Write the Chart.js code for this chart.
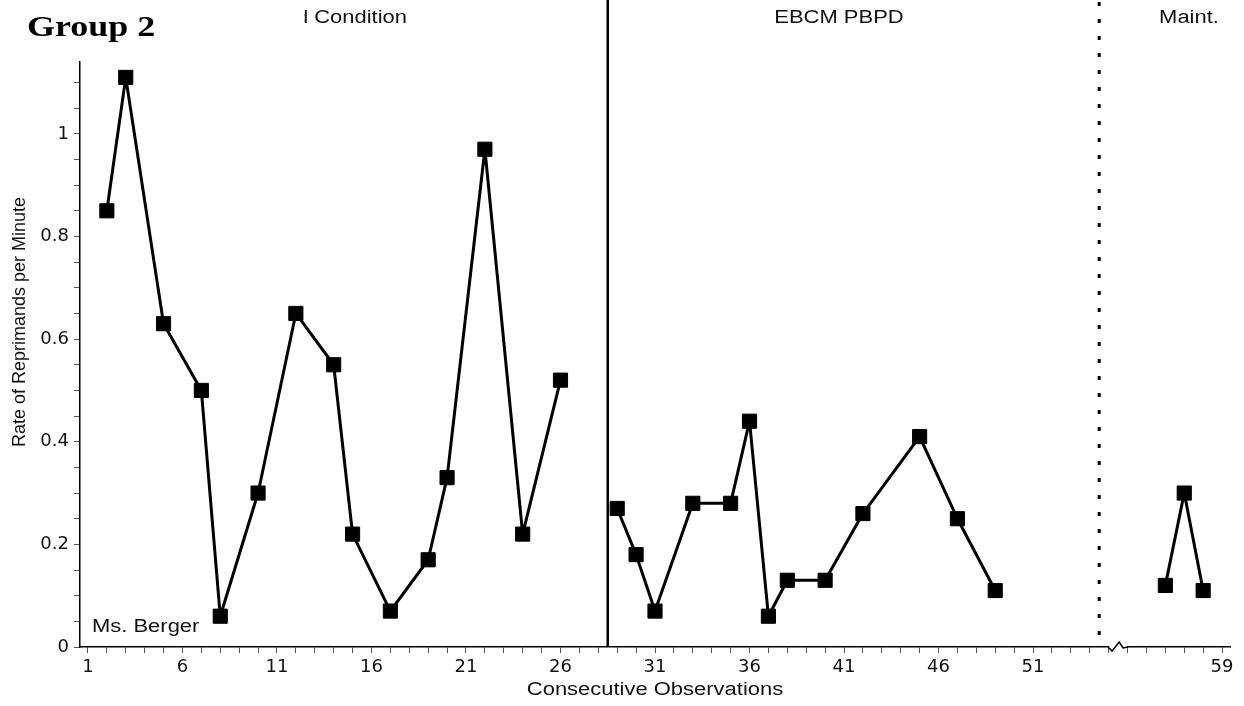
<!DOCTYPE html>
<html><head><meta charset="utf-8">
<script src="https://cdn.jsdelivr.net/npm/chart.js@4"></script>
<style>html,body{margin:0;padding:0;background:#fff;}#wrap{width:1244px;height:706px;position:relative;}</style>
</head><body><div id="wrap"><canvas id="c" width="1244" height="706"></canvas></div>
<script>
// ---- data ----
const baselineObs  = [2, 3, 5, 7, 8, 10, 12, 14, 15, 17, 19, 20, 22, 24, 26];
const baselineRate = [0.85, 1.11, 0.63, 0.50, 0.06, 0.30, 0.65, 0.55, 0.22, 0.07, 0.17, 0.33, 0.97, 0.22, 0.52];
const ebcmObs  = [29, 30, 31, 33, 35, 36, 37, 38, 40, 42, 45, 47, 49];
const ebcmRate = [0.27, 0.18, 0.07, 0.28, 0.28, 0.44, 0.06, 0.13, 0.13, 0.26, 0.41, 0.25, 0.11];
const maintObs  = [56, 57, 58];
const maintRate = [0.12, 0.30, 0.11];
const phaseLabels = ['d Condition', 'EBCM PBPD', 'Maint.'];
const xTickLabelsPre  = [1, 6, 11, 16, 21, 26, 31, 36, 41, 46, 51];
const xTickLabelsPost = [59];
const yTickLabels = [0, 0.2, 0.4, 0.6, 0.8, 1];
const xTitle = 'Consecutive Observations';
const yTitle = 'Rate of Reprimands per Minute';
const teacherLabel = 'Ms. Berger';
const groupLabel = 'Group 2';

// axis break: observations after the break are drawn 2 units further right
const BREAK_SHIFT = 2;
const BREAK_POS = 55.5;      // axis position of the break mark
const phaseLinePos = [28.5, 54.5];

const FONT = '"Liberation Sans", Arial, Helvetica, sans-serif';
const TICKFONT = '"DejaVu Sans", sans-serif';
const FS = 18;
const SX = 1.22;   // the reference text is horizontally stretched

const pts = (obs, rate, post) => obs.map((o, i) => ({x: post ? o + BREAK_SHIFT : o, y: rate[i]}));
const xTickPositions = [];
for (let v = 1; v <= 55; v++) xTickPositions.push(v);
for (let r = 54; r <= 59; r++) xTickPositions.push(r + BREAK_SHIFT);
const yTickPositions = [];
for (let i = 0; i <= 22; i++) yTickPositions.push(Math.round(i * 5) / 100);

const lineDs = (data) => ({
  data, borderColor: '#000', borderWidth: 3, backgroundColor: '#000',
  borderJoinStyle: 'round', borderCapStyle: 'round',
  pointStyle: 'rect', pointRadius: 10, pointBorderWidth: 1, pointBorderColor: '#000',
  pointBackgroundColor: '#000', tension: 0, showLine: true, clip: false
});

function sText(ctx, text, x, y, align, sx, sy) {
  ctx.save();
  ctx.translate(x, y);
  ctx.scale(sx, sy || 1);
  ctx.textAlign = align;
  ctx.fillText(text, 0, 0);
  ctx.restore();
}

const overlay = {
  id: 'overlay',
  afterDatasetsDraw(chart) {
    const {ctx} = chart;
    const xs = chart.scales.x, ys = chart.scales.y;
    const y0 = ys.getPixelForValue(0);
    const ca = chart.chartArea;
    ctx.save();
    // phase change lines
    ctx.strokeStyle = '#000';
    ctx.lineWidth = 2.5;
    let px = xs.getPixelForValue(phaseLinePos[0]);
    ctx.beginPath(); ctx.moveTo(px, 0); ctx.lineTo(px, y0); ctx.stroke();
    px = xs.getPixelForValue(phaseLinePos[1]);
    ctx.lineWidth = 3;
    ctx.setLineDash([4, 13]);
    ctx.beginPath(); ctx.moveTo(px, 2); ctx.lineTo(px, y0 - 4); ctx.stroke();
    ctx.setLineDash([]);
    // axis break
    const bx = xs.getPixelForValue(BREAK_POS);
    ctx.fillStyle = '#fff';
    ctx.fillRect(bx - 9, y0 - 2, 18, 4);
    ctx.strokeStyle = '#000'; ctx.lineWidth = 1.5;
    ctx.beginPath();
    ctx.moveTo(bx - 10, y0);
    ctx.lineTo(bx - 6, y0 + 4);
    ctx.lineTo(bx + 1, y0 - 5);
    ctx.lineTo(bx + 5, y0 + 1);
    ctx.lineTo(bx + 10, y0);
    ctx.stroke();

    // texts
    ctx.fillStyle = '#000';
    ctx.textBaseline = 'middle';
    ctx.font = 'bold 30px "Liberation Serif", "Times New Roman", serif';
    sText(ctx, groupLabel, 27, 28, 'left', 1.2);

    ctx.fillStyle = '#111';
    ctx.font = FS + 'px ' + FONT;
    // first phase label, its left part hidden as in the reference
    const right = 407;
    const w = ctx.measureText(phaseLabels[0]).width * SX;
    const dw = ctx.measureText(phaseLabels[0][0]).width * SX;
    ctx.save();
    ctx.beginPath(); ctx.rect(right - w + dw * 0.7, 0, w, 40); ctx.clip();
    sText(ctx, phaseLabels[0], right, 18, 'right', SX);
    ctx.restore();
    sText(ctx, phaseLabels[1], 839, 18, 'center', SX);
    sText(ctx, phaseLabels[2], 1189, 18, 'center', SX);
    sText(ctx, teacherLabel, 92, 627, 'left', SX);
    // axis titles
    sText(ctx, xTitle, (ca.left + ca.right) / 2, 690, 'center', SX);
    ctx.save();
    ctx.translate(20, 322);
    ctx.rotate(-Math.PI / 2);
    ctx.textAlign = 'center';
    ctx.fillText(yTitle, 0, 0);
    ctx.restore();
    ctx.restore();
  }
};

new Chart(document.getElementById('c'), {
  type: 'line',
  data: {datasets: [
    lineDs(pts(baselineObs, baselineRate, false)),
    lineDs(pts(ebcmObs, ebcmRate, false)),
    lineDs(pts(maintObs, maintRate, true))
  ]},
  options: {
    responsive: false, animation: false, devicePixelRatio: 1,
    layout: {padding: {top: 62, right: 14, left: 0, bottom: 0}},
    plugins: {legend: {display: false}, tooltip: {enabled: false}},
    scales: {
      x: {
        type: 'linear', min: 0.58, max: 61.42,
        afterBuildTicks: s => { s.ticks = xTickPositions.map(v => ({value: v})); },
        afterFit: s => { s.height = 59; },
        ticks: {
          autoSkip: false, maxRotation: 0, minRotation: 0, padding: 4, color: '#111',
          font: {family: TICKFONT, size: FS},
          callback: (v) => {
            if (v <= BREAK_POS) return xTickLabelsPre.includes(v) ? String(v) : '';
            const r = v - BREAK_SHIFT;
            return xTickLabelsPost.includes(r) ? String(r) : '';
          }
        },
        grid: {drawOnChartArea: false, drawTicks: true, tickLength: 6, tickColor: '#555', tickWidth: 1},
        border: {display: true, color: '#000', width: 1.5},
        title: {display: false}
      },
      y: {
        type: 'linear', min: 0, max: 1.14,
        afterBuildTicks: s => { s.ticks = yTickPositions.map(v => ({value: v})); },
        afterFit: s => { s.width = 80; },
        ticks: {
          autoSkip: false, padding: 5, color: '#111',
          font: {family: TICKFONT, size: FS},
          callback: (v) => {
            const r = Math.round(v * 100) / 100;
            if (!yTickLabels.includes(r)) return '';
            return (r === 0 || r === 1) ? String(r) : r.toFixed(1);
          }
        },
        grid: {drawOnChartArea: false, drawTicks: true, tickLength: 6, tickColor: '#555', tickWidth: 1},
        border: {display: true, color: '#000', width: 1.5},
        title: {display: false}
      }
    }
  },
  plugins: [overlay]
});
</script>
</body></html>
